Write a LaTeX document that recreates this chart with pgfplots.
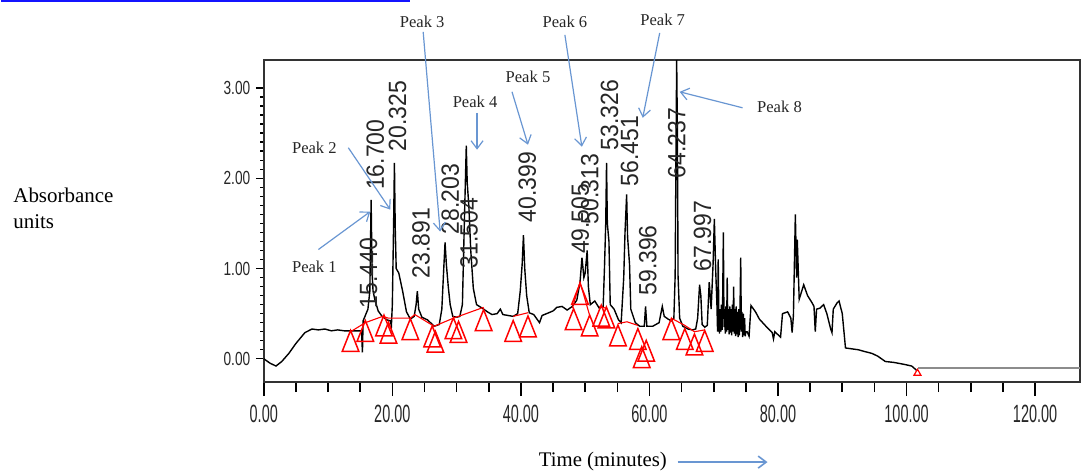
\documentclass[border=0pt]{standalone}
\usepackage{fontspec}
\setmainfont{Liberation Serif}
\newfontfamily\xtf[FakeStretch=0.58]{Liberation Sans}
\newfontfamily\ytf[FakeStretch=0.72]{Liberation Sans}
\newfontfamily\rtf[FakeStretch=0.92]{Liberation Sans}
\usepackage{pgfplots}
\pgfplotsset{compat=1.18}
\usetikzlibrary{arrows.meta}
\definecolor{arrowblue}{RGB}{105,150,210}
\definecolor{linkblue}{RGB}{20,20,255}

\pgfplotstableread{
x y
0 0.00
1.0 -0.05
1.9 -0.08
2.8 -0.03
3.9 0.06
5.0 0.17
6.4 0.29
7.5 0.33
8.5 0.32
9.5 0.33
10.5 0.31
11.5 0.32
12.5 0.31
14.0 0.31
15.2 0.31
15.35 0.07
15.45 0.42
15.8 0.48
16.2 0.55
16.5 0.75
16.7 1.76
16.85 0.95
17.0 0.75
17.3 0.65
17.8 0.53
18.4 0.47
19.2 0.43
19.7 0.42
19.85 0.36
20.0 0.60
20.2 1.50
20.325 2.17
20.45 1.45
20.6 1.00
21.0 0.95
21.6 0.75
22.2 0.52
22.8 0.44
23.4 0.47
23.7 0.60
23.891 0.75
24.1 0.55
24.6 0.46
25.5 0.43
26.5 0.36
27.3 0.38
27.7 0.55
28.0 1.00
28.203 1.29
28.4 1.05
28.7 0.80
29.0 0.60
29.4 0.47
30.0 0.46
30.5 0.47
30.9 0.60
31.2 1.50
31.504 2.36
31.65 1.95
31.9 1.70
32.2 1.20
32.6 0.78
33.1 0.60
34.0 0.56
34.8 0.52
35.5 0.49
36.3 0.50
36.8 0.55
37.2 0.49
38.0 0.48
38.8 0.47
39.5 0.50
39.9 0.75
40.2 1.05
40.399 1.37
40.6 1.00
40.9 0.70
41.3 0.51
42.0 0.49
42.9 0.40
43.3 0.48
44.0 0.50
45.0 0.53
45.6 0.57
46.4 0.58
47.2 0.54
48.0 0.58
48.7 0.65
49.2 0.85
49.505 1.12
49.8 0.90
50.0 0.95
50.313 1.20
50.5 0.80
50.8 0.60
51.5 0.64
52.2 0.56
52.8 0.58
53.0 1.00
53.2 1.50
53.326 2.17
53.45 1.50
53.7 1.30
53.9 0.60
54.5 0.55
55.2 0.43
55.6 0.40
56.0 0.90
56.2 1.40
56.451 1.82
56.6 1.35
56.9 1.05
57.1 0.55
57.8 0.40
58.5 0.36
59.2 0.36
59.396 0.58
59.6 0.36
60.5 0.36
61.5 0.40
62.0 0.58
62.3 0.47
62.9 0.44
63.4 0.42
63.8 0.45
64.0 0.92
64.15 2.50
64.237 3.31
64.35 2.50
64.45 0.92
64.7 0.45
65.2 0.36
66.0 0.33
66.7 0.32
67.2 0.33
67.5 0.45
67.8 0.82
67.997 0.70
68.2 0.38
68.6 0.35
69.0 0.37
69.3 0.85
69.6 0.55
69.9 1.05
70.1 1.55
70.3 1.00
70.5 0.60
70.6 0.30
70.7 1.10
70.8 0.45
70.9 0.28
71.0 0.55
71.1 0.30
71.2 0.60
71.3 0.32
71.4 0.70
71.5 1.40
71.6 0.35
71.7 0.55
71.8 0.28
71.9 0.58
72.0 0.30
72.1 0.90
72.2 0.32
72.3 0.55
72.4 0.27
72.5 0.58
72.6 0.29
72.7 0.55
72.8 0.26
72.9 0.60
73.0 0.30
73.1 0.80
73.2 0.28
73.3 0.55
73.4 0.25
73.5 0.58
73.6 0.27
73.7 0.52
73.8 0.24
73.9 0.55
74.0 0.26
74.1 0.60
74.2 1.12
74.3 0.30
74.4 0.52
74.5 0.24
74.6 0.50
74.7 0.26
74.8 0.45
74.9 0.25
75.0 0.30
75.2 0.30
75.5 0.25
75.8 0.59
76.5 0.52
77.1 0.44
78.0 0.37
79.1 0.29
79.3 0.22
79.5 0.30
80.4 0.24
80.7 0.50
81.5 0.52
82.0 0.45
82.2 0.29
82.4 0.48
82.7 1.60
82.9 0.90
83.0 1.32
83.3 0.66
84.0 0.82
84.6 0.70
85.3 0.62
85.6 0.58
85.8 0.30
86.0 0.55
86.5 0.56
87.1 0.60
87.6 0.50
88.2 0.33
88.4 0.29
88.6 0.55
89.2 0.62
89.5 0.64
90.0 0.50
90.5 0.12
91.5 0.11
92.5 0.10
93.5 0.08
94.6 0.06
95.5 0.03
96.7 -0.03
98.0 -0.04
99.5 -0.06
100.8 -0.08
101.6 -0.13
}\trace

\pgfplotstableread{
x y
13.5 0.16
15.8 0.27
18.7 0.33
19.4 0.25
22.8 0.29
26.2 0.21
26.7 0.15
29.5 0.30
30.3 0.26
34.2 0.39
38.8 0.27
41.1 0.32
48.2 0.40
49.2 0.68
50.7 0.33
52.5 0.44
53.3 0.42
55.1 0.22
58.2 0.18
58.8 -0.02
59.5 0.05
63.4 0.29
65.5 0.18
67.0 0.12
68.6 0.16
}\tri

\begin{document}
\begin{tikzpicture}
\begin{scope}[shift={(-131.65pt,191.5pt)},x=0.5pt,y=-0.5pt]
\useasboundingbox (0,0) rectangle (1081,472);
\end{scope}
\begin{axis}[
  at={(0,0)}, anchor=south west, scale only axis,
  width=408.85pt, height=161.25pt,
  xmin=0, xmax=126.97, ymin=-0.26, ymax=3.306,
  clip=false,
  axis line style={black!80, line width=0.9pt},
  tick align=outside,
  xtick pos=bottom, ytick pos=left,
  xtick={0,20,...,120},
  xticklabels={0.00,20.00,40.00,60.00,80.00,100.00,120.00},
  ytick={0,1,2,3},
  yticklabels={0.00,1.00,2.00,3.00},
  minor x tick num=3, minor y tick num=9,
  major x tick style={/pgfplots/major tick length=7pt, line width=0.8pt, black},
  minor x tick style={/pgfplots/minor tick length=5pt, line width=0.8pt, black},
  major y tick style={/pgfplots/major tick length=4pt, line width=0.7pt, black},
  minor y tick style={/pgfplots/minor tick length=1.8pt, line width=0.7pt, black},
  xticklabel style={font=\xtf\fontsize{12.5}{12.5}\selectfont, text=black!85, yshift=-3.5pt},
  yticklabel style={font=\ytf\fontsize{9.5}{9.5}\selectfont, text=black!85, xshift=1pt},
]
\addplot[black, line width=0.7pt] table {\trace};
\addplot[black!45, line width=1.1pt] coordinates {(101.8,-0.10) (126.97,-0.10)};
% red integration baselines
\addplot[red, line width=0.55pt] coordinates {(13.5,0.30) (15.8,0.40) (18.5,0.47) (19.4,0.45) (22.8,0.45) (23.5,0.49) (26.5,0.36) (29.5,0.45) (30.3,0.47) (34.2,0.57)};
\addplot[red, line width=0.55pt] coordinates {(38.8,0.47) (41.1,0.51)};
\addplot[red, line width=0.55pt] coordinates {(48.0,0.56) (49.2,0.85) (50.7,0.48)};
\addplot[red, line width=0.55pt] coordinates {(52.2,0.58) (53.3,0.56)};
\addplot[red, line width=0.55pt] coordinates {(55.1,0.39) (56.5,0.41) (58.2,0.37)};
\addplot[red, line width=0.55pt] coordinates {(63.4,0.45) (65.5,0.37) (67.0,0.30) (68.6,0.32)};
\addplot[only marks, mark=triangle, mark size=4.8pt, mark options={red, line width=0.75pt, yscale=1.45, fill=none}] table {\tri};
\addplot[only marks, mark=triangle, mark size=2pt, mark options={red, line width=0.6pt}] coordinates {(101.7,-0.16)};
% retention time labels
\begin{scope}[every node/.style={rotate=90, font=\rtf\fontsize{12.5}{12.5}\selectfont, inner sep=0pt, text=black!85}]
\node at (axis cs:16.28,0.95) {15.440};
\node at (axis cs:17.36,2.26) {16.700};
\node at (axis cs:20.80,2.69) {20.325};
\node at (axis cs:24.45,1.28) {23.891};
\node at (axis cs:29.00,1.77) {28.203};
\node at (axis cs:31.94,1.39) {31.504};
\node at (axis cs:40.98,1.90) {40.399};
\node at (axis cs:49.25,1.55) {49.505};
\node at (axis cs:50.70,1.88) {50.313};
\node at (axis cs:53.80,2.70) {53.326};
\node at (axis cs:56.90,2.30) {56.451};
\node at (axis cs:59.74,1.09) {59.396};
\node at (axis cs:64.24,2.39) {64.237};
\node at (axis cs:68.27,1.36) {67.997};
\end{scope}
\end{axis}
\begin{scope}[shift={(-131.65pt,191.5pt)},x=0.5pt,y=-0.5pt]
\draw[linkblue, line width=1pt] (0,1.2) -- (410,1.2);
\node[anchor=north west, align=left, font=\fontsize{10.5}{13}\selectfont, inner sep=0pt] at (12,188) {Absorbance\\units};
\node[font=\fontsize{10.4}{12}\selectfont, inner sep=0pt] at (603,462) {Time (minutes)};
\draw[arrowblue, line width=0.8pt, -{Straight Barb[length=4pt,width=6pt]}] (678,463) -- (768,463);
\begin{scope}[every node/.style={font=\fontsize{8.3}{9}\selectfont, inner sep=0pt, text=black!85}]
\begin{scope}[arrowblue, line width=0.6pt, -{Straight Barb[length=4pt,width=6pt]}]
\draw (318,250) -- (370,212);
\draw (348,148) -- (390,210);
\draw (423,32) -- (440,232);
\draw (477,113) -- (477,150);
\draw (512,92) -- (528,145);
\draw (565,35) -- (582,147);
\draw (660,33) -- (643,118);
\draw (743,108) -- (680,92);
\end{scope}
\node at (314,267) {Peak 1};
\node at (314,148) {Peak 2};
\node at (422,22) {Peak 3};
\node at (475,102) {Peak 4};
\node at (528,77) {Peak 5};
\node at (565,22) {Peak 6};
\node at (663,20) {Peak 7};
\node at (780,107) {Peak 8};
\end{scope}
\end{scope}
\end{tikzpicture}
\end{document}
